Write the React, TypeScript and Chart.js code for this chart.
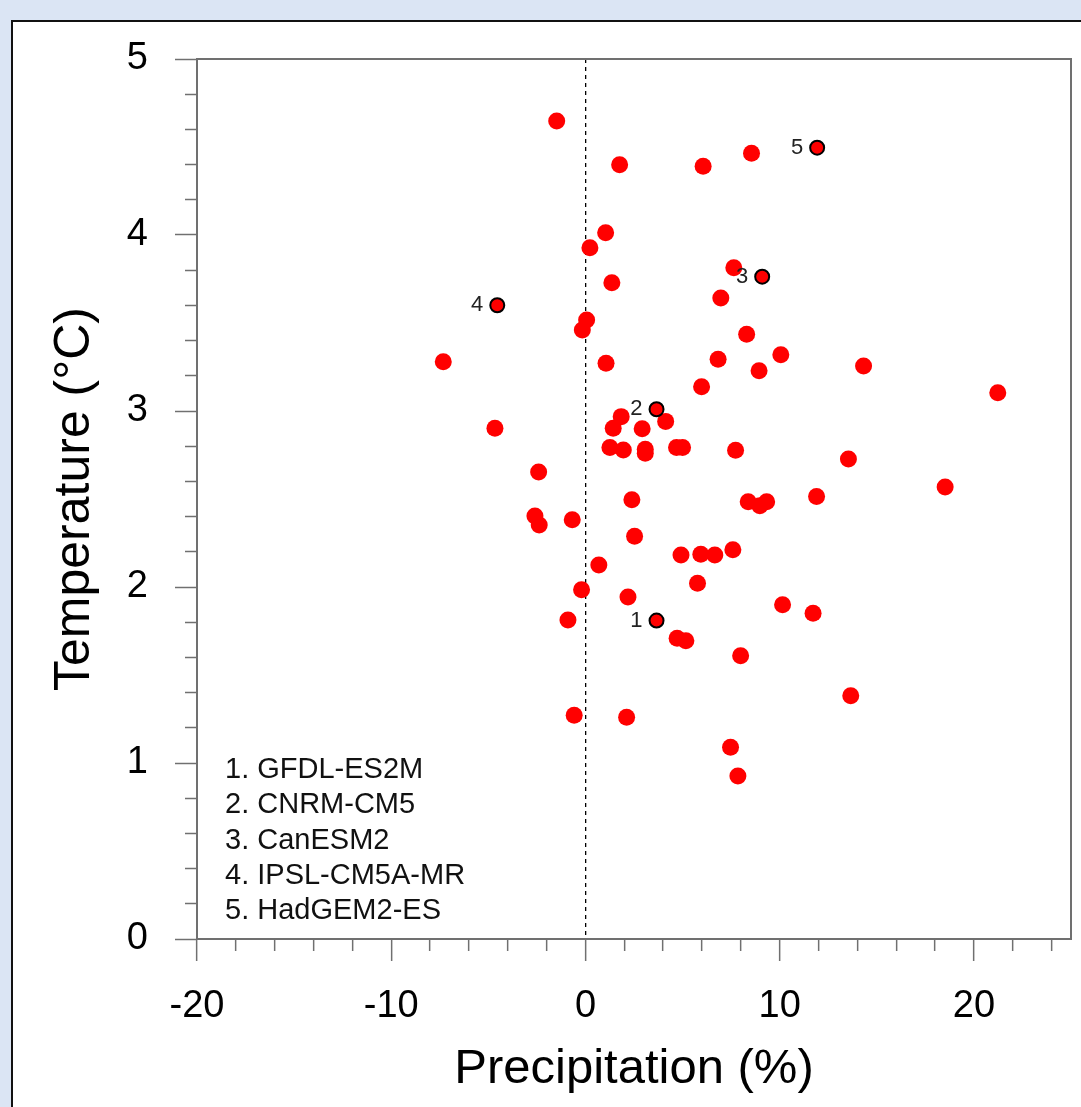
import React, { useEffect, useRef } from 'react';
import { Chart, registerables } from 'chart.js';

Chart.register(...registerables);

// ---- data ----
const precipitation = [
  -1.48, 8.55, 1.76, 6.06, 1.04, 0.23, 7.64, 1.36, 6.97, 0.06,
  -0.16, 8.3, -7.32, 1.06, 6.83, 10.06, 8.94, 14.32, 5.98, 21.23,
  1.84, 4.13, 1.43, 2.92, -4.66, 1.26, 1.95, 3.08, 3.08, 4.69,
  5.0, 7.73, 13.54, -2.41, 2.39, 18.52, 11.9, 8.38, 8.98, 9.33,
  -2.6, -2.38, -0.68, 2.53, 0.69, 4.92, 5.94, 6.66, 7.59, 5.77,
  -0.2, 2.19, 10.15, 11.72, -0.9, 4.72, 5.17, 7.99, 13.66, -0.58,
  2.12, 7.47, 7.85,
];
const temperature = [
  4.648, 4.464, 4.399, 4.39, 4.013, 3.928, 3.814, 3.729, 3.642, 3.517,
  3.46, 3.436, 3.28, 3.271, 3.294, 3.32, 3.229, 3.256, 3.138, 3.104,
  2.968, 2.941, 2.902, 2.899, 2.902, 2.792, 2.778, 2.782, 2.76, 2.792,
  2.792, 2.777, 2.727, 2.653, 2.496, 2.568, 2.514, 2.485, 2.462, 2.485,
  2.403, 2.352, 2.382, 2.288, 2.125, 2.182, 2.186, 2.182, 2.212, 2.021,
  1.985, 1.943, 1.899, 1.851, 1.813, 1.709, 1.695, 1.61, 1.382, 1.271,
  1.26, 1.089, 0.926,
];
const keyPrecipitation = [3.66, 3.66, 9.1, -4.54, 11.93];
const keyTemperature = [1.809, 3.01, 3.763, 3.601, 4.496];
const keyLabels = ['1', '2', '3', '4', '5'];
const modelNames = ['GFDL-ES2M', 'CNRM-CM5', 'CanESM2', 'IPSL-CM5A-MR', 'HadGEM2-ES'];
const xMajorTicks = [-20, -10, 0, 10, 20];
const yMajorTicks = [0, 1, 2, 3, 4, 5];
const xRange = [-20, 25];
const yRange = [0, 5];
const xMinorStep = 2;
const yMinorStep = 0.2;
const xTitle = 'Precipitation (%)';
const yTitle = 'Temperature (°C)';

const FONT = "'Liberation Sans', Arial, Helvetica, sans-serif";
const AXIS = '#707070';

const near = (v: number, list: number[]) => list.some((m) => Math.abs(m - v) < 1e-6);

const stepTicks = (min: number, max: number, step: number) => {
  const out: { value: number }[] = [];
  const n = Math.floor((max - min) / step + 1e-9);
  for (let i = 0; i <= n; i++) out.push({ value: Math.round((min + i * step) * 1e6) / 1e6 });
  return out;
};

const panelPlugin = {
  id: 'panel',
  beforeDraw(chart: any) {
    const { ctx, width, height } = chart;
    ctx.save();
    ctx.fillStyle = '#dbe5f4';
    ctx.fillRect(0, 0, width, height);
    ctx.fillStyle = '#ffffff';
    ctx.fillRect(11, 20, width, height);
    ctx.strokeStyle = '#111111';
    ctx.lineWidth = 2;
    ctx.beginPath();
    ctx.moveTo(12, height);
    ctx.lineTo(12, 21);
    ctx.lineTo(width, 21);
    ctx.stroke();
    ctx.restore();
  },
};

const labelPlugin = {
  id: 'keyLabels',
  afterDatasetsDraw(chart: any) {
    const { ctx } = chart;
    const meta = chart.getDatasetMeta(0);
    ctx.save();
    ctx.font = `22px ${FONT}`;
    ctx.fillStyle = '#222222';
    ctx.textAlign = 'right';
    ctx.textBaseline = 'middle';
    meta.data.forEach((el: any, i: number) => {
      ctx.fillText(keyLabels[i], el.x - 14, el.y);
    });
    ctx.restore();
  },
  afterDraw(chart: any) {
    const { ctx } = chart;
    ctx.save();
    ctx.font = `29px ${FONT}`;
    ctx.fillStyle = '#111111';
    ctx.textAlign = 'left';
    ctx.textBaseline = 'alphabetic';
    modelNames.forEach((name, i) => {
      ctx.fillText(`${keyLabels[i]}. ${name}`, 225, 778 + i * 35.3);
    });
    ctx.restore();
  },
};

export default function App() {
  const ref = useRef<HTMLCanvasElement | null>(null);

  useEffect(() => {
    if (!ref.current) return;
    const chart = new Chart(ref.current, {
      type: 'scatter',
      data: {
        datasets: [
          {
            label: 'key models',
            data: keyPrecipitation.map((x, i) => ({ x, y: keyTemperature[i] })),
            backgroundColor: '#ff0000',
            borderColor: '#000000',
            borderWidth: 2,
            pointRadius: 7,
          },
          {
            label: 'models',
            data: precipitation.map((x, i) => ({ x, y: temperature[i] })),
            backgroundColor: '#ff0000',
            borderWidth: 0,
            pointRadius: 8.5,
          },
        ],
      },
      options: {
        responsive: false,
        devicePixelRatio: 1,
        animation: false,
        layout: { padding: { top: 59, right: 10, left: 0, bottom: 0 } },
        plugins: { legend: { display: false }, tooltip: { enabled: false } },
        scales: {
          x: {
            type: 'linear',
            position: 'bottom',
            min: xRange[0],
            max: xRange[1],
            afterFit: (s: any) => { s.height = 168; },
            afterBuildTicks: (s: any) => { s.ticks = stepTicks(xRange[0], xRange[1], xMinorStep); },
            ticks: {
              autoSkip: false,
              maxRotation: 0,
              padding: 23,
              color: '#000000',
              font: { family: FONT, size: 38 },
              callback: (v: any) => (near(Number(v), xMajorTicks) ? String(v) : ''),
            },
            grid: {
              drawOnChartArea: true,
              color: (c: any) => (c.tick && Math.abs(c.tick.value) < 1e-6 ? '#000000' : 'rgba(0,0,0,0)'),
              lineWidth: 1.3,
              tickLength: 22,
              tickColor: AXIS,
              tickWidth: 1.5,
              tickBorderDash: (c: any) => (c.tick && near(c.tick.value, xMajorTicks) ? [] : [11, 1000]),
            },
            border: { display: true, color: AXIS, width: 2, dash: [4, 4] },
            title: {
              display: true,
              text: xTitle,
              color: '#000000',
              font: { family: FONT, size: 49 },
              padding: { top: 0, bottom: 8 },
            },
          },
          y: {
            type: 'linear',
            position: 'left',
            min: yRange[0],
            max: yRange[1],
            afterFit: (s: any) => { s.width = 197; },
            afterBuildTicks: (s: any) => { s.ticks = stepTicks(yRange[0], yRange[1], yMinorStep); },
            ticks: {
              autoSkip: false,
              padding: 27,
              color: '#000000',
              font: { family: FONT, size: 38 },
              callback: (v: any) => (near(Number(v), yMajorTicks) ? String(Math.round(Number(v))) : ''),
            },
            grid: {
              drawOnChartArea: false,
              tickLength: 22,
              tickColor: AXIS,
              tickWidth: 1.5,
              tickBorderDash: (c: any) => (c.tick && near(c.tick.value, yMajorTicks) ? [] : [0, 10, 12, 1000]),
            },
            border: { display: true, color: AXIS, width: 2 },
            title: {
              display: true,
              text: yTitle,
              color: '#000000',
              font: { family: FONT, size: 50 },
              padding: { top: 45, bottom: 0 },
            },
          },
          xTop: {
            type: 'linear',
            position: 'top',
            min: xRange[0],
            max: xRange[1],
            afterFit: (s: any) => { s.height = 0; },
            ticks: { display: false },
            grid: { drawOnChartArea: false, drawTicks: false },
            border: { display: true, color: AXIS, width: 2 },
          },
          yRight: {
            type: 'linear',
            position: 'right',
            min: yRange[0],
            max: yRange[1],
            afterFit: (s: any) => { s.width = 0; },
            ticks: { display: false },
            grid: { drawOnChartArea: false, drawTicks: false },
            border: { display: true, color: AXIS, width: 2 },
          },
        },
      } as any,
      plugins: [panelPlugin, labelPlugin],
    });
    return () => chart.destroy();
  }, []);

  return (
    <div style={{ position: 'fixed', left: 0, top: 0, width: 1081, height: 1107, overflow: 'hidden' }}>
      <canvas ref={ref} width={1081} height={1107} style={{ display: 'block', width: 1081, height: 1107 }} />
    </div>
  );
}
